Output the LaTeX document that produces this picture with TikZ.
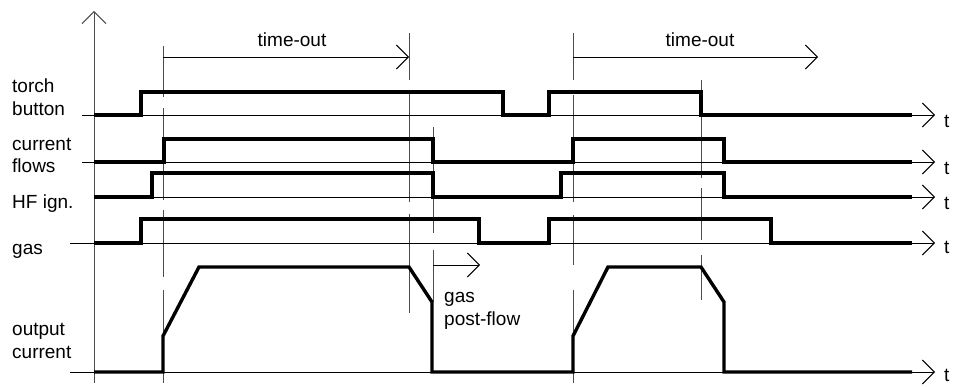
\documentclass[tikz,border=0pt]{standalone}
\usepackage{fontspec}
\setmainfont{Liberation Sans}
\usetikzlibrary{arrows.meta}
\begin{document}
\begin{tikzpicture}[x=1pt,y=-1pt,
  signal/.style={line width=3.4pt, line join=miter, line cap=butt},
  refline/.style={line width=0.9pt, -{Straight Barb[length=12pt,width=24pt,line width=0.9pt]}},
  guide/.style={line width=1pt, black!70},
  timearrow/.style={line width=0.9pt, -{Straight Barb[length=12pt,width=24pt,line width=0.9pt]}},
  lbl/.style={font=\fontsize{19}{23}\selectfont, anchor=base west, inner sep=0pt},
  clbl/.style={font=\fontsize{19}{23}\selectfont, anchor=base, inner sep=0pt}]
\useasboundingbox (0,0) rectangle (962,387);

% vertical axis
\coordinate (ax0) at (94,383);
\coordinate (ax1) at (94,11);
\draw[guide, -{Straight Barb[length=12pt,width=24pt,line width=1pt]}] (ax0) -- (ax1);

% broken guide lines marking the events
\foreach \x/\a/\b in {163/46/97, 163/108/200, 163/210/277, 163/290/383,
                      409/33/80, 409/92/202, 409/214/313,
                      433/127/233, 433/250/302,
                      573/33/80, 573/95/202, 573/215/265, 573/290/383,
                      701/80/178, 701/188/240, 701/255/300}
  \draw[guide] (\x,\a) -- (\x,\b);

% time reference lines with open arrow tips
\coordinate (r1a) at (82,115);  \coordinate (r1b) at (935,115);
\coordinate (r2a) at (82,162);  \coordinate (r2b) at (935,162);
\coordinate (r3a) at (94,197);  \coordinate (r3b) at (935,197);
\coordinate (r4a) at (70,243);  \coordinate (r4b) at (935,243);
\coordinate (r5a) at (70,372);  \coordinate (r5b) at (935,372);
\foreach \i in {1,...,5} \draw[refline] (r\i a) -- (r\i b);

\node[lbl] (t1) at (944,128) {t};
\node[lbl] (t2) at (944,175) {t};
\node[lbl] (t3) at (944,210) {t};
\node[lbl] (t4) at (944,254) {t};
\node[lbl] (t5) at (944,382) {t};

% signals
\draw[signal] (94,115) -- (141,115) -- (141,92) -- (503,92) -- (503,115)
  -- (549,115) -- (549,92) -- (701,92) -- (701,115) -- (912,115);
\draw[signal] (94,162) -- (164,162) -- (164,139) -- (433,139) -- (433,162)
  -- (573,162) -- (573,139) -- (724,139) -- (724,162) -- (912,162);
\draw[signal] (94,197) -- (152,197) -- (152,173) -- (433,173) -- (433,197)
  -- (561,197) -- (561,173) -- (724,173) -- (724,197) -- (912,197);
\draw[signal] (94,243) -- (141,243) -- (141,219) -- (479,219) -- (479,243)
  -- (549,243) -- (549,219) -- (771,219) -- (771,243) -- (912,243);
\draw[signal] (94,372) -- (163,372) -- (163,336) -- (199,267) -- (409,267)
  -- (432,302) -- (432,372) -- (573,372) -- (573,336) -- (608,267)
  -- (701,267) -- (724,302) -- (724,372) -- (912,372);

% time-out and post-flow intervals
\coordinate (to1a) at (163,57); \coordinate (to1b) at (409,57);
\coordinate (to2a) at (573,57); \coordinate (to2b) at (818,57);
\coordinate (pfa) at (433,265); \coordinate (pfb) at (480,265);
\draw[timearrow] (to1a) -- (to1b);
\draw[timearrow] (to2a) -- (to2b);
\draw[timearrow] (pfa) -- (pfb);
\node[clbl] (to1) at (292,47) {time-out};
\node[clbl] (to2) at (700,47) {time-out};
\node[lbl] (pf1) at (444,303) {gas};
\node[lbl] (pf2) at (444,326) {post-flow};

% signal names
\node[lbl] (n1a) at (12,93) {torch};
\node[lbl] (n1b) at (12,116) {button};
\node[lbl] (n2a) at (12,151) {current};
\node[lbl] (n2b) at (12,173) {flows};
\node[lbl] (n3) at (12,209) {HF ign.};
\node[lbl] (n4) at (12,255) {gas};
\node[lbl] (n5a) at (12,336) {output};
\node[lbl] (n5b) at (12,359) {current};
\end{tikzpicture}
\end{document}
